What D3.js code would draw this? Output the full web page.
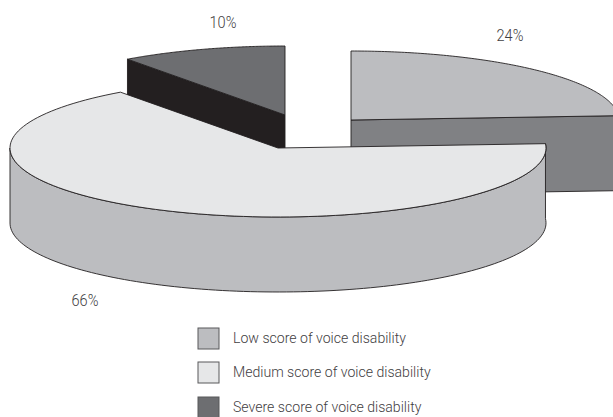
<!DOCTYPE html>
<html>
<head>
<meta charset="utf-8">
<script src="https://cdn.jsdelivr.net/npm/d3@7"></script>
<style>
    html, body { margin: 0; padding: 0; background: #fff; overflow: hidden; }
    text { font-family: Roboto, "Liberation Sans", sans-serif; font-weight: 300; fill: #3f4042; }
</style>
</head>
<body>
<div id="chart"></div>
<script>
const categories = ['Low score of voice disability', 'Medium score of voice disability', 'Severe score of voice disability'];
const percents = [24, 66, 10];

const topColors = ['#bcbdc0', '#e6e7e8', '#6d6e71'];
const cutColors = ['#808184', '#bcbdc0', '#231f20'];

const width = 613;
const height = 417;
const rx = 268;
const ry = 69;
const depth = 75;
const stroke = '#231f20';

// slices are pulled apart, so each one has its own center
const centers = [[351, 120], [278, 148], [285, 115]];
const labelPos = [[510, 41], [85, 306], [223, 28]];
const legendY = [328, 362, 397];

const svg = d3.select('#chart')
    .append('svg')
    .attr('width', width)
    .attr('height', height)
    .style('display', 'block');

const arcs = d3.pie().sort(null).value(d => d)(percents);

// tilted circle: d3.pie angle (0 = 12 o'clock, clockwise) to page position
function project(i, angle, drop) {
    return [
        centers[i][0] + rx * Math.sin(angle),
        centers[i][1] - ry * Math.cos(angle) + (drop || 0)
    ];
}

function rimPoints(i, a0, a1, drop) {
    return d3.range(0, 121).map(k => project(i, a0 + (a1 - a0) * k / 120, drop));
}

const line = d3.line();

// back to front: severe, low, then the big medium slice on top
[2, 0, 1].forEach(i => {
    const d = arcs[i];
    const g = svg.append('g').attr('class', 'slice');
    const c = centers[i];

    if (i === 1) {
        // outer wall, only the part that faces the viewer
        const a0 = d.startAngle;
        const a1 = Math.PI * 1.5;
        const wall = rimPoints(i, a0, a1, 0).concat(rimPoints(i, a1, a0, depth));
        g.append('path')
            .attr('d', line(wall) + 'Z')
            .attr('fill', cutColors[i])
            .attr('stroke', stroke)
            .attr('stroke-width', 0.9);
    } else {
        // flat cut face that hangs below the front radius
        const angle = i === 0 ? d.endAngle : d.startAngle;
        const p = project(i, angle, 0);
        const face = [c, p, [p[0], p[1] + depth], [c[0], c[1] + depth]];
        g.append('path')
            .attr('d', line(face) + 'Z')
            .attr('fill', cutColors[i])
            .attr('stroke', stroke)
            .attr('stroke-width', 0.9);
    }

    const top = [c].concat(rimPoints(i, d.startAngle, d.endAngle, 0));
    g.append('path')
        .attr('d', line(top) + 'Z')
        .attr('fill', topColors[i])
        .attr('stroke', stroke)
        .attr('stroke-width', 0.9)
        .attr('stroke-linejoin', 'round');
});

// no narrow light face is installed, so squeeze the text sideways
const squeeze = 0.91;

svg.selectAll('text.pct')
    .data(percents)
    .enter()
    .append('text')
    .attr('class', 'pct')
    .attr('transform', (d, i) => `translate(${labelPos[i][0]},${labelPos[i][1]}) scale(${squeeze},1)`)
    .attr('text-anchor', 'middle')
    .attr('font-size', 16)
    .text(d => `${d}%`);

const legend = svg.selectAll('g.legend')
    .data(categories)
    .enter()
    .append('g')
    .attr('class', 'legend')
    .attr('transform', (d, i) => `translate(198,${legendY[i]})`);

legend.append('rect')
    .attr('width', 21)
    .attr('height', 21)
    .attr('fill', (d, i) => topColors[i])
    .attr('stroke', '#58595b')
    .attr('stroke-width', 1);

legend.append('text')
    .attr('transform', `translate(35,15) scale(${squeeze},1)`)
    .attr('font-size', 15.5)
    .text(d => d);
</script>
</body>
</html>
